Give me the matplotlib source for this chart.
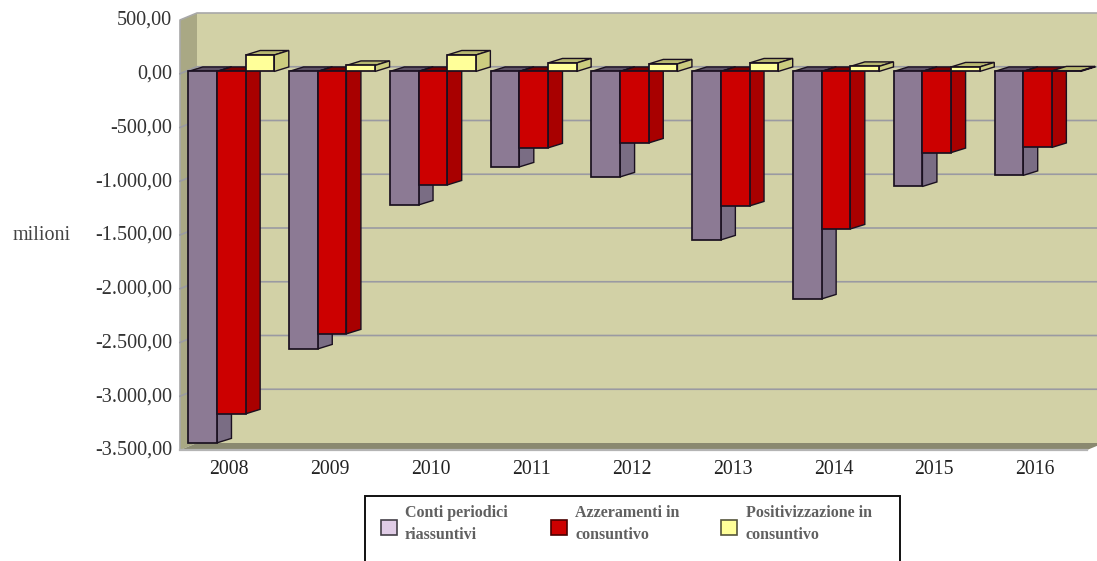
import matplotlib
matplotlib.use('Agg')
from matplotlib import pyplot as plt
from matplotlib.patches import Polygon, Rectangle
from matplotlib.transforms import ScaledTranslation

years = ['2008', '2009', '2010', '2011', '2012', '2013', '2014', '2015', '2016']
conti = [-3455, -2581, -1242, -888, -981, -1567, -2116, -1070, -967]
azzeramenti = [-3185, -2441, -1056, -711, -665, -1251, -1465, -755, -707]
positivizzazione = [153, 56, 153, 79, 70, 79, 47, 42, 5]
y_ticks = [500, 0, -500, -1000, -1500, -2000, -2500, -3000, -3500]
y_labels = ['500,00', '0,00', '-500,00', '-1.000,00', '-1.500,00', '-2.000,00',
            '-2.500,00', '-3.000,00', '-3.500,00']
legend_labels = ['Conti periodici\nriassuntivi', 'Azzeramenti in\nconsuntivo',
                 'Positivizzazione in\nconsuntivo']

W, H = 1097, 561
plt.rcParams['font.family'] = ['Liberation Serif', 'DejaVu Serif']

fig = plt.figure(figsize=(W / 100, H / 100), dpi=100)
# front plane of the 3d box, in pixels: x 180-1087, y 20-450
ax = fig.add_axes([180 / W, 1 - 450 / H, 907 / W, 430 / H])
ax.set_xlim(0, 9)
ax.set_ylim(-3500, 500)
ax.patch.set_visible(False)
for s in ax.spines.values():
    s.set_visible(False)

UX = 9 / 907  # data per pixel
UY = 4000 / 430


def pt(x, y, dx=0, dy=0):
    # data point moved by a pixel offset (depth of the fake 3d)
    return (x + dx * UX, y + dy * UY)


def poly(points, color, edge='none', lw=0, z=1):
    ax.add_patch(Polygon(points, closed=True, facecolor=color, edgecolor=edge, linewidth=lw,
                         clip_on=False, zorder=z, joinstyle='miter'))


# walls
WX, WY = 17, 7
poly([pt(0, 500), pt(0, 500, WX, WY), pt(9, 500, WX, WY), pt(9, -3500, WX, WY), pt(0, -3500, WX, WY)],
     '#d2d1a6')
poly([pt(0, 500), pt(0, 500, WX, WY), pt(0, -3500, WX, WY), pt(0, -3500)], '#a9a884')
poly([pt(0, -3500), pt(0, -3500, WX, WY), pt(9, -3500, WX, WY), pt(9, -3500)], '#8a8970')
ax.plot([0, 0, WX * UX, 9 + WX * UX], [-3500, 500, 500 + WY * UY, 500 + WY * UY],
        color='#a8a8a8', lw=1.2, clip_on=False, zorder=2)
ax.plot([0, 9], [-3500, -3500], color='#b4b4b4', lw=1.6, clip_on=False, zorder=2)
for t in y_ticks[1:-1]:
    a, b = pt(0, t), pt(0, t, WX, WY)
    c = pt(9, t, WX, WY)
    ax.plot([a[0], b[0], c[0]], [a[1], b[1], c[1]], color='#9a9aa2', lw=1.2, clip_on=False, zorder=2)

# bars
BAR_W = 0.2845
BAR_START = 0.0824
BAR_DY = 2.3  # bars stand a little behind the front plane
DX, DY = 14.5, 4.5
colors = [('#8c7a94', '#7a6d84', '#5e5266'),
          ('#cc0000', '#a80000', '#7d0000'),
          ('#ffff99', '#cccc80', '#b8b870')]
series = [conti, azzeramenti, positivizzazione]
EDGE = '#1a1020'

z = 3
for i in range(len(years)):
    for k, vals in enumerate(series):
        x0 = i + BAR_START + k * BAR_W
        x1 = x0 + BAR_W
        v = vals[i]
        hi, lo = max(v, 0), min(v, 0)
        front, side, top = colors[k]
        # top, side, front
        poly([pt(x0, hi, 0, BAR_DY), pt(x0, hi, DX, BAR_DY + DY), pt(x1, hi, DX, BAR_DY + DY),
              pt(x1, hi, 0, BAR_DY)], top, EDGE, 1.0, z)
        poly([pt(x1, hi, 0, BAR_DY), pt(x1, hi, DX, BAR_DY + DY), pt(x1, lo, DX, BAR_DY + DY),
              pt(x1, lo, 0, BAR_DY)], side, EDGE, 1.0, z + 1)
        poly([pt(x0, hi, 0, BAR_DY), pt(x1, hi, 0, BAR_DY), pt(x1, lo, 0, BAR_DY),
              pt(x0, lo, 0, BAR_DY)], front, EDGE, 1.25, z + 2)
        z += 3

ax.set_xticks([i + 0.5 for i in range(len(years))], years, fontsize=14.2, color='#222222')
ax.set_yticks(y_ticks, y_labels, fontsize=14.6, color='#333333')
ax.tick_params(axis='both', length=0)
ax.tick_params(axis='x', pad=7)
ax.tick_params(axis='y', pad=5.5)
# labels in the reference sit a touch off the plane
for lab in ax.get_yticklabels():
    lab.set_transform(lab.get_transform() + ScaledTranslation(0, 2 / 100, fig.dpi_scale_trans))
for lab in ax.get_xticklabels():
    lab.set_transform(lab.get_transform() + ScaledTranslation(-1.5 / 100, 0, fig.dpi_scale_trans))
fig.text(13 / W, 1 - 236 / H, 'milioni', fontsize=14.5, color='#444444', ha='left', va='center')

# legend box runs off the bottom of the picture
fig.add_artist(Rectangle((365 / W, -0.02), 535 / W, 1 - 496 / H + 0.02, transform=fig.transFigure,
                         facecolor='white', edgecolor='#111111', linewidth=1.4))
legend_colors = ['#e0cce6', '#cc0000', '#ffff99']
legend_edges = ['#444048', '#4a0000', '#55553c']
swatch_x = [381, 551, 721]
text_x = [405, 575, 746]
for sx, tx, col, ec, lab in zip(swatch_x, text_x, legend_colors, legend_edges, legend_labels):
    fig.add_artist(Rectangle((sx / W, 1 - 535 / H), 16 / W, 15 / H, transform=fig.transFigure,
                             facecolor=col, edgecolor=ec, linewidth=1.2))
    fig.text(tx / W, 1 - 524 / H, lab, fontsize=11.5, fontweight='bold', color='#606060',
             ha='left', va='center', linespacing=1.45)

fig.savefig('out.png', dpi=100)
